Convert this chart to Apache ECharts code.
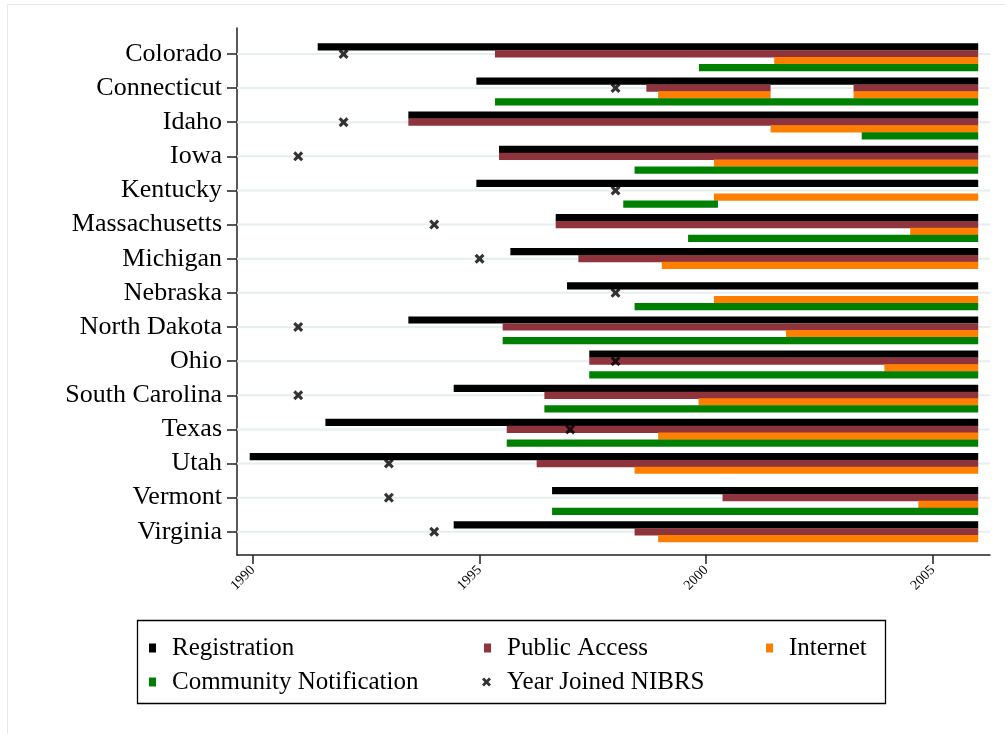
<!DOCTYPE html>
<html><head><meta charset="utf-8">
<script src="https://cdn.jsdelivr.net/npm/echarts@6/dist/echarts.min.js"></script>
<style>html,body{margin:0;padding:0;background:#fff}#c{width:1005px;height:734px}</style>
</head><body><div id="c"></div>
<script>
// ---- data ----
const states = ['Colorado','Connecticut','Idaho','Iowa','Kentucky','Massachusetts','Michigan','Nebraska','North Dakota','Ohio','South Carolina','Texas','Utah','Vermont','Virginia'];
const xTicks = [1990, 1995, 2000, 2005];
// [stateIndex, startYear, endYear]
const registration = [[0,1991.43,2006],[1,1994.93,2006],[2,1993.43,2006],[3,1995.43,2006],[4,1994.93,2006],[5,1996.68,2006],[6,1995.68,2006],[7,1996.93,2006],[8,1993.43,2006],[9,1997.42,2006],[10,1994.43,2006],[11,1991.6,2006],[12,1989.93,2006],[13,1996.6,2006],[14,1994.43,2006]];
const publicAccess = [[0,1995.34,2006],[1,1998.68,2001.42],[1,2003.25,2006],[2,1993.43,2006],[3,1995.43,2006],[5,1996.68,2006],[6,1997.18,2006],[8,1995.51,2006],[9,1997.42,2006],[10,1996.43,2006],[11,1995.6,2006],[12,1996.26,2006],[13,2000.36,2006],[14,1998.42,2006]];
const internet = [[0,2001.5,2006],[1,1998.94,2001.42],[1,2003.25,2006],[2,2001.42,2006],[3,2000.17,2006],[4,2000.17,2006],[5,2004.5,2006],[6,1999.02,2006],[7,2000.17,2006],[8,2001.76,2006],[9,2003.93,2006],[10,1999.83,2006],[11,1998.94,2006],[12,1998.42,2006],[13,2004.68,2006],[14,1998.94,2006]];
const community = [[0,1999.84,2006],[1,1995.34,2006],[2,2003.43,2006],[3,1998.42,2006],[4,1998.17,2000.26],[5,1999.6,2006],[7,1998.42,2006],[8,1995.51,2006],[9,1997.42,2006],[10,1996.43,2006],[11,1995.6,2006],[13,1996.6,2006]];
const nibrsYear = [1992,1998,1992,1991,1998,1994,1995,1998,1991,1998,1991,1997,1993,1993,1994];

// ---- chart ----
const FONT = '"Liberation Serif","DejaVu Serif",serif';
const XPATH = 'path://M0,2.2L2.2,0L5,2.8L7.8,0L10,2.2L7.2,5L10,7.8L7.8,10L5,7.2L2.2,10L0,7.8L2.8,5Z';
const idx = states.map((s, i) => i);

function barSeries(name, color, data, off) {
  return {
    type: 'custom', name: name, coordinateSystem: 'cartesian2d',
    itemStyle: {color: color}, z: 3,
    encode: {x: [1, 2], y: 0},
    data: data,
    renderItem: function (params, api) {
      const i = api.value(0), s = api.value(1), e = api.value(2);
      const p1 = api.coord([s, i + off - 0.106]);
      const p2 = api.coord([e, i + off + 0.106]);
      return {type: 'rect', shape: {x: p1[0], y: Math.min(p1[1], p2[1]), width: p2[0] - p1[0], height: Math.abs(p2[1] - p1[1])}, style: {fill: color}};
    }
  };
}

const legendBase = {orient: 'horizontal', padding: 0, itemWidth: 7, itemHeight: 9, icon: 'rect',
  textStyle: {fontFamily: FONT, fontSize: 25, color: '#000', padding: [0, 0, 0, 11], lineHeight: 28}, selectedMode: false};

const option = {
  animation: false,
  backgroundColor: '#fff',
  grid: {left: 237, right: 15, top: 28, bottom: 179},
  xAxis: {
    type: 'value', min: 1989.65, max: 2006.26,
    axisLine: {show: true, onZero: false, lineStyle: {color: '#222', width: 1.5}},
    axisTick: {show: true, length: 9, lineStyle: {color: '#222', width: 1.5}, customValues: xTicks},
    axisLabel: {customValues: xTicks, formatter: v => String(v), rotate: 45, fontFamily: FONT, fontSize: 14, color: '#000', margin: 13},
    splitLine: {show: false}
  },
  yAxis: {
    type: 'value', inverse: true, min: -0.76, max: 14.68,
    axisLine: {show: true, onZero: false, lineStyle: {color: '#222', width: 1.5}},
    axisTick: {show: true, length: 10, lineStyle: {color: '#222', width: 1.5}, customValues: idx},
    axisLabel: {customValues: idx, formatter: v => states[Math.round(v)], fontFamily: FONT, fontSize: 26, color: '#000', margin: 15},
    splitLine: {show: false}
  },
  legend: [
    Object.assign({}, legendBase, {data: ['Registration'], left: 149, top: 634}),
    Object.assign({}, legendBase, {data: ['Public Access'], left: 484, top: 634}),
    Object.assign({}, legendBase, {data: ['Internet'], left: 766, top: 634}),
    Object.assign({}, legendBase, {data: ['Community Notification'], left: 149, top: 668}),
    Object.assign({}, legendBase, {data: [{name: 'Year Joined NIBRS', icon: XPATH}], left: 482, top: 668, itemWidth: 9, itemHeight: 9})
  ],
  graphic: [
    {type: 'rect', shape: {x: 7.5, y: 4.5, width: 1010, height: 760}, style: {fill: 'none', stroke: '#e3ebee', lineWidth: 1}, silent: true},
    {type: 'rect', shape: {x: 137.5, y: 620.5, width: 748, height: 83}, style: {fill: 'none', stroke: '#000', lineWidth: 1.3}, silent: true}
  ],
  series: [
    {
      type: 'custom', name: 'grid', coordinateSystem: 'cartesian2d', z: 1, silent: true,
      encode: {y: 0}, data: idx.map(i => [i]),
      renderItem: function (params, api) {
        const cs = params.coordSys;
        const p = api.coord([1998, api.value(0)]);
        return {type: 'line', shape: {x1: cs.x, y1: p[1], x2: cs.x + cs.width, y2: p[1]}, style: {stroke: '#e6eef0', lineWidth: 2}};
      }
    },
    barSeries('Registration', '#000000', registration, -0.205),
    barSeries('Public Access', '#8f343d', publicAccess, 0),
    barSeries('Internet', '#ff7f00', internet, 0.197),
    barSeries('Community Notification', '#008000', community, 0.402),
    {
      type: 'scatter', name: 'Year Joined NIBRS', z: 5,
      symbol: XPATH, symbolSize: 10,
      itemStyle: {color: '#000'},
      data: nibrsYear.map((y, i) => [y, i])
    }
  ]
};
const chart = echarts.init(document.getElementById('c'), null, {renderer: 'canvas'});
chart.setOption(option);
</script>
</body></html>
